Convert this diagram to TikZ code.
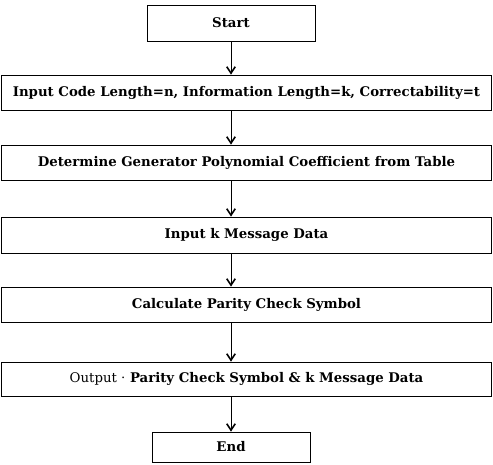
\documentclass[tikz,border=0pt]{standalone}
\usepackage{fontspec}
\setmainfont{DejaVu Serif}
\usetikzlibrary{arrows.meta}
\tikzset{
  x=1pt, y=1pt,
  stepbox/.style={draw=black, line width=0.7pt, rectangle, inner sep=0pt,
    font=\bfseries\fontsize{13.3}{15}\selectfont},
  wide/.style={stepbox, minimum width=490pt, minimum height=35pt},
  term/.style={stepbox, minimum height=36pt},
  flow/.style={draw=black, line width=0.9pt,
    -{Straight Barb[length=6.5pt, width=8.5pt, line width=1.6pt]}},
}
\begin{document}
\begin{tikzpicture}
\useasboundingbox (0,0) rectangle (493,-465);
% terminal and process boxes, top to bottom
\node[term, minimum width=168pt] (start) at (231,-23) {Start};
\node[wide] (inp)  at (246.5,-92.5)  {Input Code Length=n, Information Length=k, Correctability=t};
\node[wide] (gen)  at (246.5,-162.5) {Determine Generator Polynomial Coefficient from Table};
\node[wide, minimum height=36pt] (msg) at (246.5,-235) {Input k Message Data};
\node[wide] (par)  at (246.5,-304.5) {Calculate Parity Check Symbol};
\node[wide, minimum height=34pt] (out) at (246.5,-379)
  {{\mdseries Output \textperiodcentered} Parity Check Symbol \& k Message Data};
\node[term, minimum width=158pt, minimum height=30pt] (end) at (231,-447) {End};
% connectors
\draw[flow] (start.south) -- (start.south |- inp.north);
\draw[flow] (inp.south -| start.south) -- (gen.north -| start.south);
\draw[flow] (gen.south -| start.south) -- (msg.north -| start.south);
\draw[flow] (msg.south -| start.south) -- (par.north -| start.south);
\draw[flow] (par.south -| start.south) -- (out.north -| start.south);
\draw[flow] (out.south -| end.north) -- (end.north);
\end{tikzpicture}
\end{document}
